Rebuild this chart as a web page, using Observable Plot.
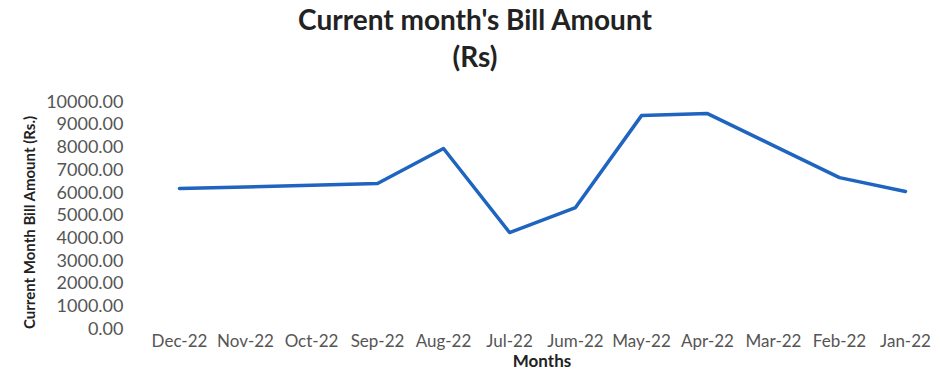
<!DOCTYPE html>
<html>
<head>
<meta charset="utf-8">
<script src="https://cdn.jsdelivr.net/npm/d3@7"></script>
<script src="https://cdn.jsdelivr.net/npm/@observablehq/plot@0.6"></script>
<style>
  body { margin: 0; background: #fff; font-family: Lato, "Open Sans", sans-serif; }
  #title {
    width: 940px; height: 75px; box-sizing: border-box; padding-top: 1px; padding-left: 10px;
    text-align: center; font-weight: 700; font-size: 28px; line-height: 37px; color: #222;
  }
</style>
</head>
<body>
<div id="title">Current month's Bill Amount<br>(Rs)</div>
<div id="chart"></div>
<script>
// Monthly bill, listed newest first as on the statement
const months = ["Dec-22", "Nov-22", "Oct-22", "Sep-22", "Aug-22", "Jul-22",
                "Jum-22", "May-22", "Apr-22", "Mar-22", "Feb-22", "Jan-22"];
const amounts = [6190, 6260, 6330, 6410, 7950, 4250, 5350, 9400, 9490, 8080, 6670, 6060];
const yTicks = [0, 1000, 2000, 3000, 4000, 5000, 6000, 7000, 8000, 9000, 10000];
const yTitle = ["Current Month Bill Amount (Rs.)"];
const xTitle = ["Months"];

const rows = months.map((m, i) => ({month: m, amount: amounts[i]}));

const chart = Plot.plot({
  width: 940,
  height: 299,
  marginTop: 26.5,
  marginBottom: 45.5,
  marginLeft: 145,
  marginRight: 2,
  style: {fontFamily: "Lato, sans-serif", fontSize: "17px", color: "#555", background: "#fff"},
  x: {type: "point", domain: months, padding: 0.5},
  y: {domain: [0, 10000]},
  marks: [
    Plot.axisY({ticks: yTicks, tickFormat: d3.format(".2f"), tickSize: 0, tickPadding: 22,
      fontSize: 18, label: null}),
    Plot.axisX({tickSize: 0, tickPadding: 6, fontSize: 17, label: null}),
    Plot.text(yTitle, {text: d => d, frameAnchor: "left", textAnchor: "middle", dx: -115, dy: 7,
      rotate: -90, fontWeight: "bold", fontSize: 15, fill: "#222"}),
    Plot.text(xTitle, {text: d => d, frameAnchor: "bottom", dy: 38,
      fontWeight: "bold", fontSize: 17, fill: "#222"}),
    Plot.line(rows, {x: "month", y: "amount", stroke: "#1f64bf", strokeWidth: 3.5})
  ]
});
document.getElementById("chart").appendChild(chart);
</script>
</body>
</html>
